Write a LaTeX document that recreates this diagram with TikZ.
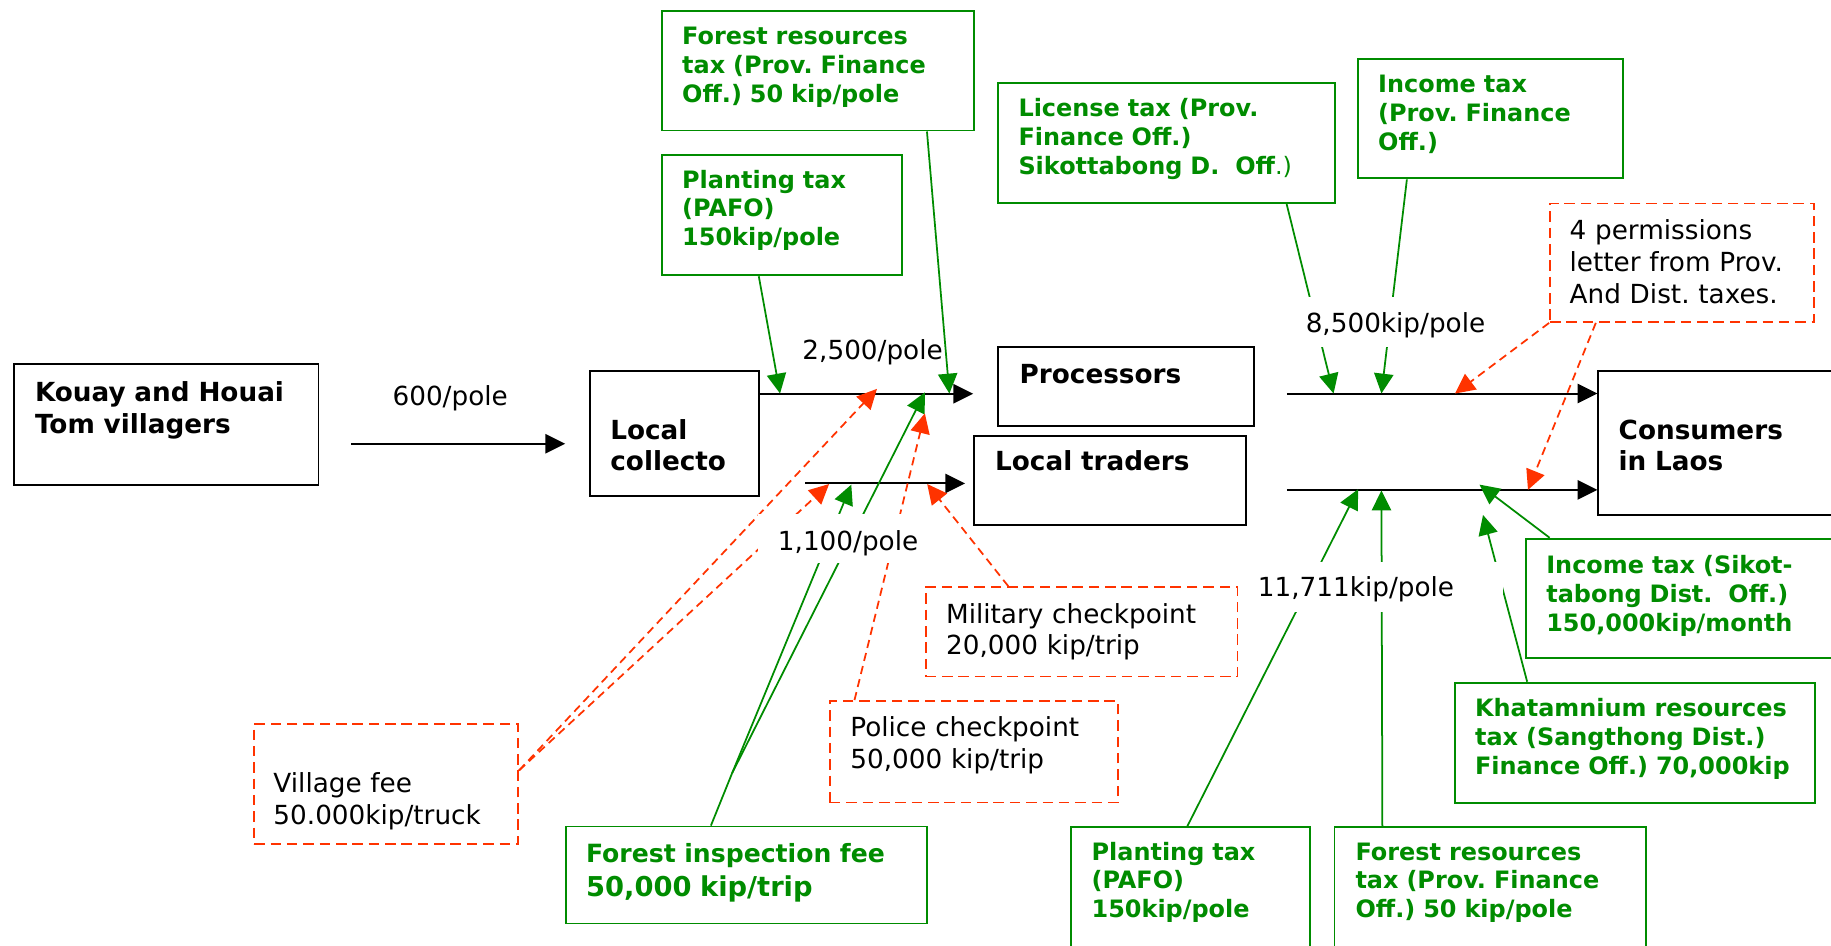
\documentclass[tikz,border=0pt]{standalone}
\usepackage{fontspec}
\setmainfont{DejaVu Sans}
\usetikzlibrary{arrows.meta}
\frenchspacing
\definecolor{tgreen}{RGB}{0,140,0}
\definecolor{tred}{RGB}{255,51,0}
\tikzset{
  box/.style={draw, line width=1.6pt, anchor=north west, inner sep=0pt},
  bbox/.style={box, draw=black},
  gbox/.style={box, draw=tgreen},
  rbox/.style={box, draw=tred, dash pattern=on 9pt off 5pt, line width=1.5pt},
  txt/.style={anchor=base west, inner sep=0pt, text width=420pt, align=left},
  btxt/.style={txt, font=\fontsize{22.5}{27}\selectfont\bfseries},
  gtxt/.style={txt, text=tgreen, font=\fontsize{20.5}{24.7}\selectfont\bfseries},
  rtxt/.style={txt, font=\fontsize{22.5}{27.2}\selectfont},
  lbl/.style={anchor=base west, inner sep=0pt, font=\fontsize{22.5}{27}\selectfont},
  wlbl/.style={lbl, fill=white, align=left},
  arr/.style={line width=1.7pt, -{Triangle[length=17pt,width=16.5pt]}},
  garr/.style={line width=1.5pt, color=tgreen, -{Triangle[length=17pt,width=16.5pt]}},
  gline/.style={line width=1.5pt, color=tgreen},
  rarr/.style={line width=1.5pt, color=tred, dash pattern=on 7pt off 4.5pt, -{Triangle[length=17pt,width=16.5pt]}}
}
\begin{document}
\begin{tikzpicture}[x=1pt,y=-1pt]
\useasboundingbox (0,0) rectangle (1568,810);
\fill[white] (0,0) rectangle (1568,810);
\clip (0,0) rectangle (1568,810);

% boxes
\node[bbox, minimum width=261pt, minimum height=103.5pt] (kouay) at (11,311) {};
\node[bbox, minimum width=144.4pt, minimum height=107.1pt] (coll) at (504.6,316.9) {};
\node[bbox, minimum width=219pt, minimum height=67.7pt] (proc) at (854,296.3) {};
\node[bbox, minimum width=232.5pt, minimum height=76.2pt] (trad) at (833.5,372.5) {};
\node[bbox, minimum width=212pt, minimum height=123pt] (cons) at (1368,317) {};
\node[gbox, minimum width=267pt, minimum height=102.4pt] (g1) at (566,8.6) {};
\node[gbox, minimum width=206pt, minimum height=103pt] (g2) at (566,132) {};
\node[gbox, minimum width=288.5pt, minimum height=103pt] (g3) at (854,70) {};
\node[gbox, minimum width=227pt, minimum height=102.6pt] (g4) at (1162,49.4) {};
\node[rbox, minimum width=226pt, minimum height=101.4pt] (r1) at (1326.6,173.6) {};
\node[gbox, minimum width=274pt, minimum height=102.5pt] (g5) at (1306,460.5) {};
\node[gbox, minimum width=308.5pt, minimum height=103pt] (g6) at (1245,583.8) {};
\node[gbox, minimum width=205pt, minimum height=110pt] (g7) at (916,707.5) {};
\node[gbox, minimum width=267pt, minimum height=110pt] (g8) at (1142,707.5) {};
\node[gbox, minimum width=309pt, minimum height=83pt] (g9) at (484,707) {};
\node[rbox, minimum width=267pt, minimum height=76.6pt] (r2) at (792,502) {};
\node[rbox, minimum width=246.5pt, minimum height=87pt] (r3) at (710,599.5) {};
\node[rbox, minimum width=226pt, minimum height=103pt] (r4) at (217,619) {};

% coordinates on flow lines
\coordinate (a1y) at (0,380);
\coordinate (a2e) at (833.4,337.2);
\coordinate (a3s) at (689.4,414);
\coordinate (a4y) at (0,337);
\coordinate (a5y) at (0,419.5);
\coordinate (t1) at (668,337);
\coordinate (t2) at (813,337);
\coordinate (t3) at (1142,337);
\coordinate (t4) at (1183,337);
\coordinate (fork) at (627,662);
\coordinate (t5) at (729,415);
\coordinate (t6) at (792,336);
\coordinate (t7) at (1163,419);
\coordinate (t8) at (1183,420);
\coordinate (t9) at (1270,441);
\coordinate (t10) at (1267,415);
\coordinate (t11) at (751,333);
\coordinate (t12) at (710,414.5);
\coordinate (t13) at (792,354);
\coordinate (t14) at (794,414.5);
\coordinate (t15) at (1246,337);
\coordinate (t16) at (1308.5,419.5);

% black flows
\draw[arr, shorten <=27pt, shorten >=20.6pt] (kouay.east |- a1y) -- (coll.west |- a1y);
\draw[arr] (coll.east |- a2e) -- (a2e);
\draw[arr, shorten >=7pt] (a3s) -- (trad.west |- a3s);
\draw[arr, shorten <=27.5pt] (proc.east |- a4y) -- (cons.west |- a4y);
\draw[arr, shorten <=34.5pt] (trad.east |- a5y) -- (cons.west |- a5y);

% green taxes
\draw[garr] ([xshift=-20pt]g2.south) -- (t1);
\draw[garr] ([xshift=93.5pt]g1.south) -- (t2);
\draw[garr] ([xshift=102.75pt]g3.south) -- (t3);
\draw[garr] ([xshift=-71.5pt]g4.south) -- (t4);
\draw[gline] ([xshift=-30.5pt]g9.north) -- (fork);
\draw[garr] (fork) -- (t5);
\draw[garr] (fork) -- (t6);
\draw[garr] ([xshift=-2.5pt]g7.north) -- (t7);
\draw[garr] ([xshift=-92.5pt]g8.north) -- (t8);
\draw[garr] ([xshift=-92.25pt]g6.north) -- (t9);
\draw[garr] ([xshift=21pt]g5.north west) -- (t10);

% red fees
\draw[rarr] ([yshift=11.5pt]r4.east) -- (t11);
\draw[rarr] ([yshift=11.5pt]r4.east) -- (t12);
\draw[rarr] ([xshift=-102.25pt]r3.north) -- (t13);
\draw[rarr] ([xshift=-62.8pt]r2.north) -- (t14);
\draw[rarr] (r1.south west) -- (t15);
\draw[rarr] ([xshift=40pt]r1.south west) -- (t16);

% flow labels
\node[lbl] (l600) at (336,347) {600/pole};
\node[lbl] (l2500) at (687,307.7) {2,500/pole};
\node[wlbl, inner xsep=17pt, text width=120pt, text height=31pt, text depth=11pt] (l1100) at (649,471) {1,100/pole};
\node[wlbl, inner xsep=18pt, text width=154pt, text height=30.4pt, text depth=12.5pt] (l8500) at (1100,285) {8,500kip/pole};
\node[wlbl, inner xsep=17pt, text width=193pt, text height=30pt, text depth=13pt] (l11711) at (1060,511) {11,711kip/pole};

% box texts
\node[btxt] (tkouay) at (29.8,344) {Kouay and Houai\\Tom villagers};
\node[btxt] (tcoll) at (522.5,376) {Local\\collecto};
\node[btxt] (tproc) at (873,328) {Processors};
\node[btxt] (ttrad) at (852,402.5) {Local traders};
\node[btxt] (tcons) at (1386,376) {Consumers\\in Laos};
\node[gtxt] (tg1) at (584,38) {Forest resources\\tax (Prov. Finance\\Off.) 50 kip/pole};
\node[gtxt] (tg2) at (584,161) {Planting tax\\(PAFO)\\150kip/pole};
\node[gtxt] (tg3) at (872,100) {License tax (Prov.\\Finance Off.)\\Sikottabong D.\ \ Off{\mdseries.)}};
\node[gtxt] (tg4) at (1180,79.4) {Income tax\\(Prov. Finance\\Off.)};
\node[rtxt] (tr1) at (1344,205.5) {4 permissions\\letter from Prov.\\And Dist. taxes.};
\node[gtxt] (tg5) at (1324,491) {Income tax (Sikot-\\tabong Dist.\ \ Off.)\\150,000kip/month};
\node[gtxt] (tg6) at (1263,613.7) {Khatamnium resources\\tax (Sangthong Dist.)\\Finance Off.) 70,000kip};
\node[gtxt] (tg7) at (934.6,736.5) {Planting tax\\(PAFO)\\150kip/pole};
\node[gtxt] (tg8) at (1160.6,736.5) {Forest resources\\tax (Prov. Finance\\Off.) 50 kip/pole};
\node[txt, text=tgreen, font=\fontsize{22}{28.4}\selectfont\bfseries] (tg9) at (501.7,739) {{\fontsize{21.5}{28.4}\selectfont Forest inspection fee}\\{\fontsize{23.4}{28.4}\selectfont 50,000 kip/trip}};
\node[rtxt] (tr2) at (810,533.6) {Military checkpoint\\20,000 kip/trip};
\node[rtxt] (tr3) at (728,631) {Police checkpoint\\50,000 kip/trip};
\node[rtxt] (tr4) at (234,679) {Village fee\\50.000kip/truck};
\end{tikzpicture}
\end{document}
